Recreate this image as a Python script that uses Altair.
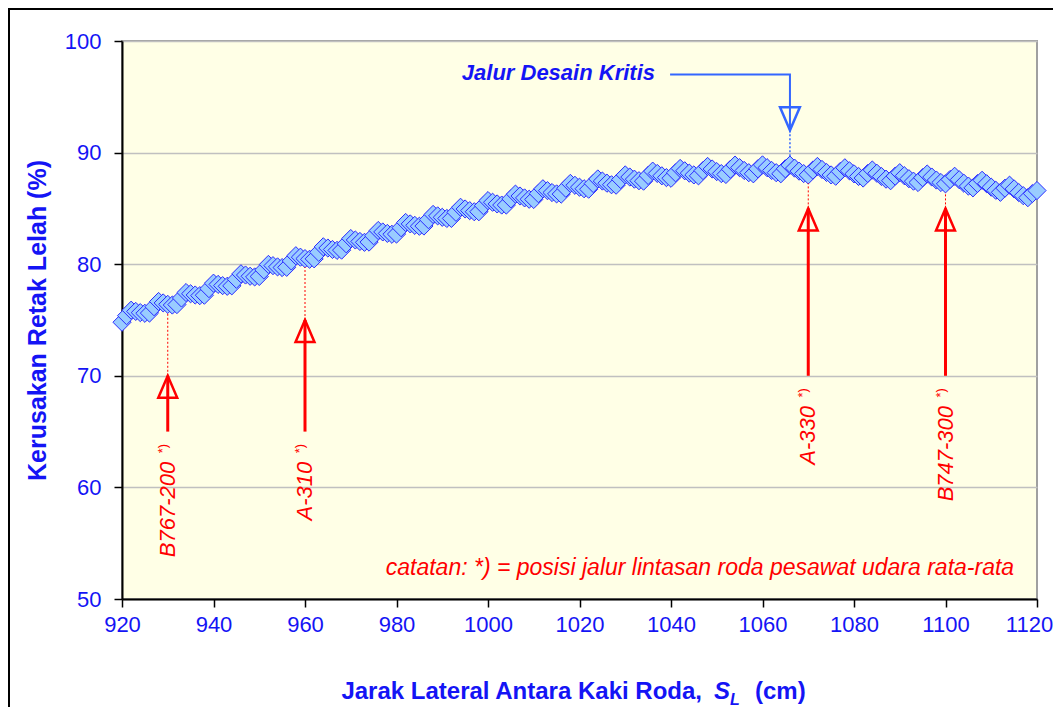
import altair as alt
import pandas as pd

# ---------------- data ----------------
span_cm = list(range(920, 1121))  # lateral spacing between gear legs (cm), 1 cm step
damage_pct = [
    74.80, 75.39, 75.88, 75.77, 75.66, 75.60, 75.62, 76.19, 76.66, 76.53,
    76.40, 76.34, 76.38, 76.97, 77.46, 77.35, 77.24, 77.18, 77.22, 77.81,
    78.30, 78.19, 78.08, 78.02, 78.06, 78.65, 79.14, 79.03, 78.92, 78.86,
    78.90, 79.49, 79.98, 79.87, 79.76, 79.70, 79.72, 80.29, 80.76, 80.63,
    80.50, 80.44, 80.48, 81.07, 81.56, 81.45, 81.32, 81.24, 81.26, 81.83,
    82.30, 82.17, 82.04, 81.96, 81.98, 82.55, 83.02, 82.89, 82.76, 82.68,
    82.70, 83.27, 83.74, 83.61, 83.48, 83.40, 83.42, 83.99, 84.46, 84.33,
    84.20, 84.10, 84.10, 84.65, 85.10, 84.95, 84.80, 84.70, 84.70, 85.25,
    85.70, 85.55, 85.40, 85.30, 85.30, 85.85, 86.28, 86.11, 85.94, 85.82,
    85.80, 86.33, 86.76, 86.59, 86.42, 86.30, 86.28, 86.81, 87.24, 87.07,
    86.90, 86.76, 86.72, 87.23, 87.64, 87.45, 87.26, 87.12, 87.08, 87.59,
    88.00, 87.81, 87.62, 87.48, 87.44, 87.95, 88.34, 88.13, 87.92, 87.76,
    87.70, 88.19, 88.58, 88.37, 88.16, 88.00, 87.92, 88.39, 88.76, 88.53,
    88.30, 88.12, 88.04, 88.51, 88.88, 88.65, 88.40, 88.20, 88.10, 88.55,
    88.90, 88.65, 88.40, 88.20, 88.10, 88.55, 88.88, 88.61, 88.34, 88.12,
    88.00, 88.43, 88.76, 88.49, 88.22, 88.00, 87.88, 88.31, 88.64, 88.37,
    88.10, 87.86, 87.72, 88.13, 88.44, 88.15, 87.86, 87.62, 87.48, 87.89,
    88.20, 87.93, 87.66, 87.44, 87.32, 87.75, 88.08, 87.81, 87.54, 87.32,
    87.20, 87.59, 87.88, 87.57, 87.26, 87.00, 86.84, 87.23, 87.52, 87.21,
    86.90, 86.62, 86.44, 86.81, 87.08, 86.75, 86.42, 86.14, 85.96, 86.33,
    86.60,
]

aircraft = ["B767-200", "A-310", "A-330", "B747-300"]
gear_x = [930, 960, 1070, 1100]
arrow_tail = [65, 65, 70, 70]
arrow_tip = [70, 75, 85, 85]

crit_label = "Jalur Desain Kritis"
crit_x = 1066
crit_tip = 92.0
crit_elbow_y = 97.0
crit_line_start = 1039.8
crit_label_x = 1036.5
crit_label_y = 97.1

note_text = "catatan: *) = posisi jalur lintasan roda pesawat udara rata-rata"
note_x = 1115.0
note_y = 52.8

x_ticks = [920, 940, 960, 980, 1000, 1020, 1040, 1060, 1080, 1100, 1120]
y_ticks = [50, 60, 70, 80, 90, 100]

y_title = "Kerusakan Retak Lelah (%)"
x_title_main = "Jarak Lateral Antara Kaki Roda,"
x_title_sym = "S"
x_title_sub = "L"
x_title_unit = "(cm)"

# ---------------- styling ----------------
FONT = "Liberation Sans"
BLUE = "#1414F5"
RED = "#FF0000"
ARROW_BLUE = "#3366FF"
MARK_HALF = 0.75  # half marker height in % units, so dotted leaders stop at marker edge

lookup = dict(zip(span_cm, damage_pct))

xs = alt.Scale(domain=[920, 1120], nice=False, zero=False)
ys = alt.Scale(domain=[50, 100], nice=False, zero=False)

x_axis = alt.Axis(values=x_ticks, title=None, format="d", labelFontSize=22,
                  labelColor=BLUE, labelFont=FONT, labelPadding=7, labelFlush=False,
                  labelOverlap=False, labelBound=False,
                  labelOffset={"condition": {"test": "datum.value >= 1120", "value": -8},
                               "value": 0},
                  tickSize=8, tickColor="black", tickWidth=1.5,
                  domainColor="black", domainWidth=2, grid=False)
y_axis = alt.Axis(values=y_ticks, title=y_title, titleFontSize=25, titleFont=FONT,
                  titleFontWeight="bold", titleColor=BLUE, titlePadding=14,
                  labelFontSize=22, labelColor=BLUE, labelFont=FONT, labelPadding=13,
                  tickSize=8, tickColor="black", tickWidth=1.5, domainColor="black",
                  domainWidth=2, grid=True, gridColor="#C0C0C0", gridWidth=1.5)


def X(field):
    return alt.X(field, type="quantitative", scale=xs, axis=x_axis)


def Y(field):
    return alt.Y(field, type="quantitative", scale=ys, axis=y_axis)


pts = pd.DataFrame({"x": span_cm, "y": damage_pct})
arr = pd.DataFrame({
    "name": aircraft,
    "x": gear_x,
    "tail": arrow_tail,
    "tip": arrow_tip,
})
arr["dot"] = [lookup[v] - MARK_HALF for v in gear_x]
arr["lab"] = [t - 2.7 for t in arrow_tail]
arr["star"] = [t - 1.1 for t in arrow_tail]

one = pd.DataFrame({"k": [0]})

frame = alt.Chart(one).mark_rect(fillOpacity=0, stroke="black", strokeWidth=2).encode(
    x=alt.value(-113), x2=alt.value(960), y=alt.value(-32), y2=alt.value(720))

points = alt.Chart(pts).mark_point(
    shape="diamond", filled=True, fill="#99CCFF", stroke="#2A2AFF",
    strokeWidth=1, size=330, opacity=1, fillOpacity=1
).encode(x=X("x"), y=Y("y"))

red_shaft = alt.Chart(arr).mark_rule(color=RED, strokeWidth=3).encode(
    x=X("x"), y=Y("tail"), y2="tip:Q")
red_dot = alt.Chart(arr).mark_rule(color=RED, strokeWidth=1, strokeDash=[2, 2]).encode(
    x=X("x"), y=Y("tip"), y2="dot:Q")
red_head = alt.Chart(arr).mark_point(
    shape="M0,0L-0.86,2L0.86,2Z", size=484, filled=False, stroke=RED,
    strokeWidth=2.5, opacity=1
).encode(x=X("x"), y=Y("tip"))
red_label = alt.Chart(arr).mark_text(
    angle=270, align="right", baseline="middle", fontSize=22, fontStyle="italic",
    font=FONT, color=RED
).encode(x=X("x"), y=Y("lab"), text="name:N")
red_star = alt.Chart(arr).mark_text(
    angle=270, align="right", baseline="middle", fontSize=13, font=FONT, color=RED, dy=-5
).encode(x=X("x"), y=Y("star"), text=alt.value("*)"))

crit_df = pd.DataFrame({"x": [crit_line_start, crit_x, crit_x],
                        "y": [crit_elbow_y, crit_elbow_y, crit_tip],
                        "o": [0, 1, 2]})
blue_line = alt.Chart(crit_df).mark_line(color=ARROW_BLUE, strokeWidth=2).encode(
    x=X("x"), y=Y("y"), order="o:Q")
crit_pt = pd.DataFrame({"x": [crit_x], "tip": [crit_tip],
                        "dot": [lookup[crit_x] + MARK_HALF]})
blue_head = alt.Chart(crit_pt).mark_point(
    shape="M0,0L-0.9,-2.1L0.9,-2.1Z", size=484, filled=False, stroke=ARROW_BLUE,
    strokeWidth=2.5, opacity=1
).encode(x=X("x"), y=Y("tip"))
blue_dot = alt.Chart(crit_pt).mark_rule(color=ARROW_BLUE, strokeWidth=1.5, strokeDash=[2, 2]).encode(
    x=X("x"), y=Y("tip"), y2="dot:Q")
crit_txt_df = pd.DataFrame({"x": [crit_label_x], "y": [crit_label_y], "t": [crit_label]})
blue_text = alt.Chart(crit_txt_df).mark_text(
    align="right", baseline="middle", fontSize=22, fontStyle="italic",
    fontWeight="bold", font=FONT, color=BLUE
).encode(x=X("x"), y=Y("y"), text="t:N")

note_df = pd.DataFrame({"x": [note_x], "y": [note_y], "t": [note_text]})
note = alt.Chart(note_df).mark_text(
    align="right", baseline="middle", fontSize=23, fontStyle="italic", font=FONT, color=RED
).encode(x=X("x"), y=Y("y"), text="t:N")


def title_piece(txt, px, py, size, style="normal", align="left"):
    return alt.Chart(pd.DataFrame({"t": [txt]})).mark_text(
        align=align, baseline="alphabetic", fontSize=size, fontWeight="bold",
        fontStyle=style, font=FONT, color=BLUE
    ).encode(x=alt.value(px), y=alt.value(py), text="t:N")


xt1 = title_piece(x_title_main, 580, 658, 24, align="right")
xt2 = title_piece(x_title_sym, 592, 658, 24, style="italic")
xt3 = title_piece(x_title_sub, 608, 664, 16, style="italic")
xt4 = title_piece(x_title_unit, 633, 658, 24)

chart = alt.layer(
    points, frame, blue_line, blue_dot, red_shaft, red_dot, red_head, blue_head,
    red_label, red_star, blue_text, note, xt1, xt2, xt3, xt4
).properties(
    width=915, height=558,
    autosize=alt.AutoSizeParams(type="none"),
    padding={"left": 114, "top": 33, "right": 16, "bottom": 108},
).configure(background="white").configure_view(
    fill="#FFFFE6", stroke="#A0A0A0", strokeWidth=2
)

chart.save("out.html", embed_options={"renderer": "svg", "actions": False})
